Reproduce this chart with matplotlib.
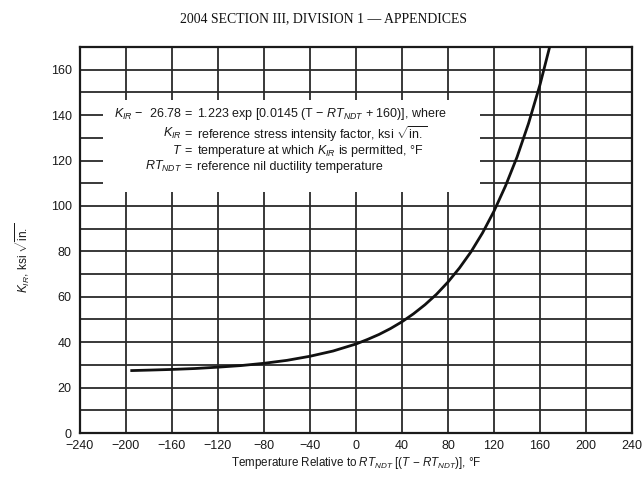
import matplotlib
matplotlib.use("Agg")
import matplotlib.pyplot as plt
from matplotlib.patches import Rectangle

plt.rcParams['font.family'] = ['Liberation Sans', 'DejaVu Sans']
plt.rcParams['mathtext.fontset'] = 'custom'
plt.rcParams['mathtext.rm'] = 'Liberation Sans'
plt.rcParams['mathtext.it'] = 'Liberation Sans:italic'
plt.rcParams['mathtext.bf'] = 'Liberation Sans:bold'

# curve: T - RT_NDT (degF) vs K_IR (ksi sqrt(in.))
temp = [-195, -180, -160, -140, -120, -100, -80, -60, -40, -20, 0, 10, 20, 30,
        40, 50, 60, 70, 80, 90, 100, 110, 120, 130, 140, 150, 160, 170]
k_ir = [27.5, 27.7, 28.0, 28.4, 29.0, 29.7, 30.7, 32.0, 33.8, 36.1, 39.2, 41.2,
        43.4, 46.0, 49.0, 52.5, 56.5, 61.1, 66.5, 72.7, 79.8, 88.1, 97.7, 108.8,
        121.5, 136.3, 153.4, 173.2]

x_ticks = [-240, -200, -160, -120, -80, -40, 0, 40, 80, 120, 160, 200, 240]
y_ticks = [0, 20, 40, 60, 80, 100, 120, 140, 160]
x_tick_labels = ['\u2212240', '\u2212200', '\u2212160', '\u2212120', '\u221280', '\u221240',
                 '0', '40', '80', '120', '160', '200', '240']

fig = plt.figure(figsize=(6.43, 4.83), dpi=100)
ax = fig.add_axes([0.1244, 0.1035, 0.8585, 0.7992])

ax.set_xlim(-240, 240)
ax.set_ylim(0, 170)
ax.set_xticks(x_ticks)
ax.set_xticklabels(x_tick_labels)
ax.set_yticks(y_ticks)
ax.set_yticks(range(0, 171, 10), minor=True)
ax.tick_params(which='both', length=0, labelsize=9, colors='#1a1a1a')
ax.tick_params(axis='x', pad=5)
ax.tick_params(axis='y', pad=6)

ax.set_axisbelow(True)
ax.grid(True, which='both', color='#2a2a2a', linewidth=1.3)
ax.grid(False, which='minor', axis='x')
for s in ax.spines.values():
    s.set_linewidth(1.6)
    s.set_color('#1a1a1a')

# white panel behind the equation text
ax.add_patch(Rectangle((-220, 106), 328, 40.5, facecolor='white', edgecolor='none', zorder=1.5))

ax.plot(temp, k_ir, color='#111111', linewidth=2.0, zorder=3)

fs = 9
eq_x = -146.1
rows = [
    (140.3, r'$K_{IR}$ $-$  26.78', r'1.223 exp [0.0145 (T $-$ $RT_{NDT}$ + 160)], where'),
    (131.8, r'$K_{IR}$', r'reference stress intensity factor, ksi $\sqrt{\mathrm{in.}}$'),
    (124.3, r'$T$', r'temperature at which $K_{IR}$ is permitted, $\degree$F'),
    (117.2, r'$RT_{NDT}$', r'reference nil ductility temperature'),
]
for yv, left, right in rows:
    ax.text(eq_x - 5.2, yv, left, ha='right', va='center', fontsize=fs, color='#1a1a1a', zorder=4)
    ax.text(eq_x, yv, '=', ha='center', va='center', fontsize=fs, color='#1a1a1a', zorder=4)
    ax.text(eq_x + 7.8, yv, right, ha='left', va='center', fontsize=fs, color='#1a1a1a', zorder=4)

ax.set_xlabel(r'Temperature Relative to $RT_{NDT}$ [($T$ $-$ $RT_{NDT}$)], $\degree$F',
              fontsize=8.4, color='#1a1a1a', labelpad=2)
ax.set_ylabel(r'$K_{IR}$, ksi $\sqrt{\mathrm{in.}}$', fontsize=8.6, color='#1a1a1a')
ax.yaxis.set_label_coords(-0.087, 0.455)

fig.text(0.503, 0.962, '2004 SECTION III, DIVISION 1 \u2014 APPENDICES',
         ha='center', va='center', fontsize=9.9, family='Liberation Serif', color='#111111')

fig.savefig('out.png', dpi=100)
